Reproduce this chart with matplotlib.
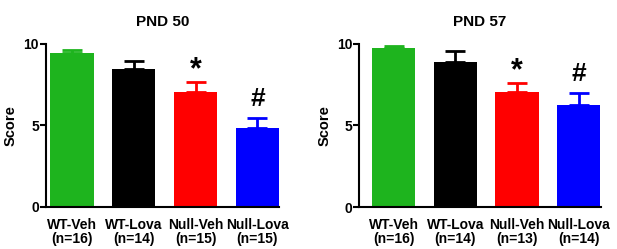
import numpy as np
import matplotlib
matplotlib.use("Agg")
import matplotlib.pyplot as plt

plt.rcParams["font.family"] = ["Liberation Sans", "DejaVu Sans"]
plt.rcParams["font.weight"] = "bold"

grupos = ["WT-Veh", "WT-Lova", "Null-Veh", "Null-Lova"]
colores = ["#1EB41E", "#000000", "#FF0000", "#0000FF"]

n_50 = [16, 14, 15, 15]
media_50 = [9.45, 8.47, 7.06, 4.85]
sem_50 = [0.15, 0.47, 0.57, 0.61]
marcas_50 = ["", "", "*", "#"]

n_57 = [16, 14, 13, 14]
media_57 = [9.72, 8.90, 7.05, 6.24]
sem_57 = [0.16, 0.64, 0.53, 0.73]
marcas_57 = ["", "", "*", "#"]

fig = plt.figure(figsize=(6.17, 2.49), dpi=100)
ax1 = fig.add_axes([0.0746, 0.170, 0.3776, 0.6545])
ax2 = fig.add_axes([0.5823, 0.168, 0.3913, 0.6565])


def panel(ax, titulo, medias, sems, ns, marcas, xlim):
    x = np.arange(len(grupos))
    ax.bar(x, medias, width=0.7, color=colores, zorder=2)
    for xi, m, s, c in zip(x, medias, sems, colores):
        ax.errorbar(xi, m, yerr=[[0], [s]], fmt="none", ecolor=c,
                    elinewidth=2, capsize=7, capthick=2, zorder=1)
    for xi, m, s, mk in zip(x, medias, sems, marcas):
        if mk:
            tam = 22 if mk == "*" else 19
            dy = -2 if mk == "*" else 5
            ax.annotate(mk, (xi, m + s), xytext=(0, dy), textcoords="offset points",
                        ha="center", va="bottom", fontsize=tam, fontweight="bold",
                        annotation_clip=False)
    ax.set_xlim(*xlim)
    ax.set_ylim(0, 10)
    ax.set_yticks([0, 5, 10])
    ax.set_xticks(x)
    ax.set_xticklabels([f"{g}\n(n={k})" for g, k in zip(grupos, ns)],
                       fontsize=10, fontweight="bold", linespacing=1.0)
    ax.tick_params(axis="x", length=0, pad=8)
    ax.tick_params(axis="y", length=4, width=1.5, labelsize=10, pad=1)
    for lab in ax.get_yticklabels():
        lab.set_fontweight("bold")
    ax.set_ylabel("Score", fontsize=10.5, fontweight="bold", labelpad=4)
    ax.set_title(titulo, fontsize=11, fontweight="bold", pad=13)
    ax.spines[["top", "right"]].set_visible(False)
    ax.spines[["left", "bottom"]].set_linewidth(1.5)


panel(ax1, "PND 50", media_50, sem_50, n_50, marcas_50, (-0.42, 3.35))
panel(ax2, "PND 57", media_57, sem_57, n_57, marcas_57, (-0.56, 3.36))

fig.savefig("out.png", dpi=100)
